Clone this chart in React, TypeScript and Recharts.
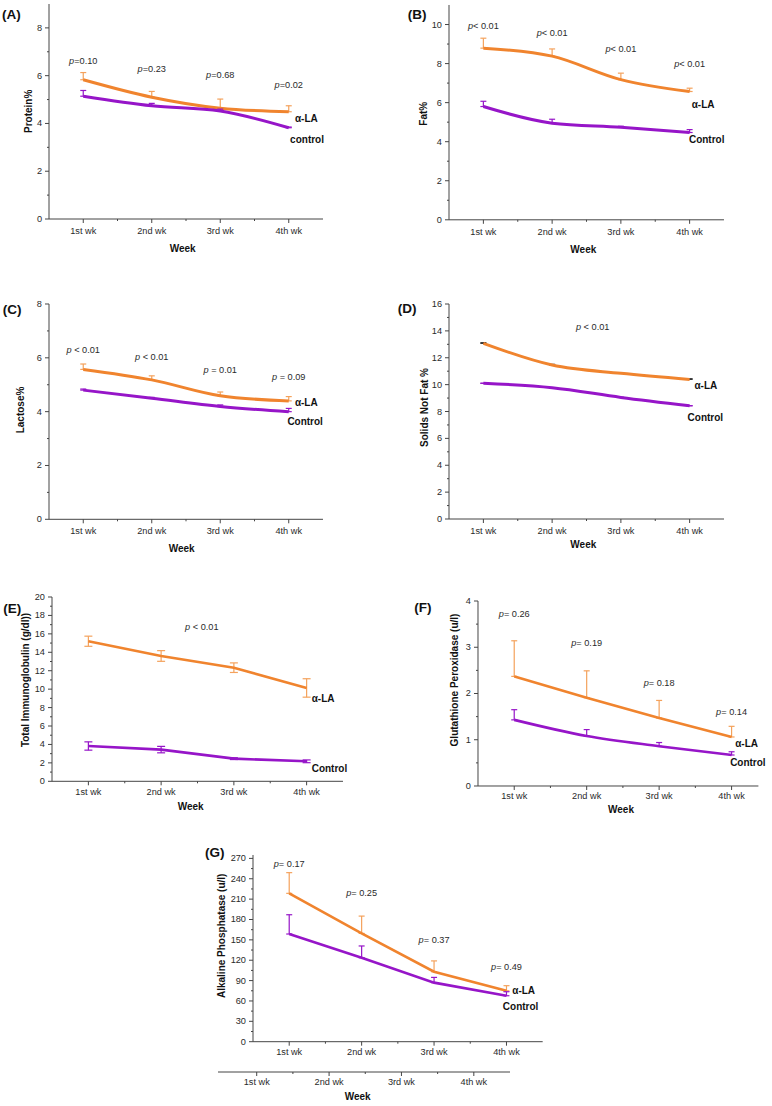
import React from "react";
import { ComposedChart, Line, Scatter, XAxis, YAxis, ErrorBar } from "recharts";

const weeks = ["1st wk", "2nd wk", "3rd wk", "4th wk"];

// (A) Protein %
const proteinAlpha = [5.83, 5.1, 4.64, 4.49];
const proteinAlphaErr = [0.3, 0.24, 0.38, 0.25];
const proteinCtrl = [5.14, 4.74, 4.52, 3.82];
const proteinCtrlErr = [0.24, 0.1, 0.08, 0.03];
const proteinP = ["p=0.10", "p=0.23", "p=0.68", "p=0.02"];
const proteinPY = [6.6, 6.28, 6.03, 5.6];

// (B) Fat %
const fatAlpha = [8.79, 8.38, 7.18, 6.57];
const fatAlphaErr = [0.51, 0.37, 0.33, 0.17];
const fatCtrl = [5.8, 4.95, 4.74, 4.47];
const fatCtrlErr = [0.27, 0.2, 0.05, 0.15];
const fatP = ["p< 0.01", "p< 0.01", "p< 0.01", "p< 0.01"];
const fatPY = [9.9, 9.55, 8.75, 7.99];

// (C) Lactose %
const lactoseAlpha = [5.57, 5.18, 4.59, 4.4];
const lactoseAlphaErr = [0.2, 0.15, 0.14, 0.16];
const lactoseCtrl = [4.8, 4.5, 4.19, 4.0];
const lactoseCtrlErr = [0.04, 0.03, 0.06, 0.12];
const lactoseP = ["p < 0.01", "p < 0.01", "p = 0.01", "p = 0.09"];
const lactosePY = [6.29, 6.04, 5.55, 5.28];

// (D) Solids not fat %
const snfAlpha = [13.07, 11.46, 10.84, 10.39];
const snfAlphaErr = [0.05, 0.05, 0.05, 0.05];
const snfCtrl = [10.1, 9.77, 9.05, 8.43];
const snfCtrlErr = [0, 0, 0, 0];

// (E) Total immunoglobulin
const igAlpha = [15.2, 13.6, 12.33, 10.13];
const igAlphaErr = [0.55, 0.58, 0.52, 1.0];
const igCtrl = [3.83, 3.44, 2.46, 2.17];
const igCtrlErr = [0.45, 0.35, 0.1, 0.15];

// (F) Glutathione peroxidase
const gpxAlpha = [2.37, 1.91, 1.47, 1.06];
const gpxAlphaErr = [0.77, 0.58, 0.38, 0.23];
const gpxCtrl = [1.43, 1.08, 0.86, 0.67];
const gpxCtrlErr = [0.22, 0.14, 0.08, 0.07];
const gpxP = ["p= 0.26", "p= 0.19", "p= 0.18", "p= 0.14"];
const gpxPY = [3.72, 3.1, 2.23, 1.6];

// (G) Alkaline phosphatase
const alpAlpha = [218.5, 159.5, 103, 75];
const alpAlphaErr = [30.5, 25.5, 16, 7.5];
const alpCtrl = [158.6, 123.7, 87, 67.7];
const alpCtrlErr = [28.4, 17.3, 7.7, 5.9];
const alpP = ["p= 0.17", "p= 0.25", "p= 0.37", "p= 0.49"];
const alpPY = [262, 219, 150, 110];

const ORANGE = "#F0842E";
const ORANGE_ERR = "#F4A25C";
const PURPLE = "#9615C8";
const AXIS = "#444";
const TXT = "#2a2a2a";
const FONT = "'Liberation Sans', Arial, sans-serif";

const range = (a: number, b: number, s: number) => {
  const out: number[] = [];
  for (let v = a; v <= b + 1e-9; v += s) out.push(Math.round(v * 1000) / 1000);
  return out;
};

const isMult = (v: number, m: number) => Math.abs(v / m - Math.round(v / m)) < 1e-6;

function makeYTick(major: number) {
  return (props: any) => {
    const { x, y, payload } = props;
    const v = payload.value;
    const big = isMult(v, major);
    return (
      <g>
        <line x1={x} x2={x - (big ? 4 : 2)} y1={y} y2={y} stroke={AXIS} />
        {big && (
          <text x={x - 7} y={y} textAnchor="end" dominantBaseline="central" fontSize={9.2} fill={TXT} fontFamily={FONT}>
            {v}
          </text>
        )}
      </g>
    );
  };
}

function makeXTick(gap: number) {
  return (props: any) => {
    const { x, y, payload } = props;
    const v = payload.value;
    const big = isMult(v, 1);
    return (
      <g>
        <line x1={x} x2={x} y1={y} y2={y + (big ? 4 : 2)} stroke={AXIS} />
        {big && (
          <text x={x} y={y + gap} textAnchor="middle" dominantBaseline="central" fontSize={9.2} fill={TXT} fontFamily={FONT}>
            {weeks[v - 1]}
          </text>
        )}
      </g>
    );
  };
}

const NoteText = (props: any) => {
  const { cx, cy, payload } = props;
  if (payload.kind === "p") {
    const t: string = payload.text;
    return (
      <text x={cx} y={cy} textAnchor="middle" dominantBaseline="central" fontSize={9.2} fill={TXT} fontFamily={FONT}>
        <tspan fontStyle="italic">{t[0]}</tspan>
        {t.slice(1)}
      </text>
    );
  }
  return (
    <text x={cx} y={cy} textAnchor="start" dominantBaseline="central" fontSize={10} fontWeight="bold" fill="#111" fontFamily={FONT}>
      {payload.text}
    </text>
  );
};

type Note = { x: number; y: number; text: string; kind: "p" | "s" };

const pNotes = (texts: string[], ys: number[]): Note[] =>
  texts.map((t, i) => ({ x: i + 1, y: ys[i], text: t, kind: "p" }));

const sNotes = (aX: number, aY: number, cX: number, cY: number, ctrlName = "Control"): Note[] => [
  { x: aX, y: aY, text: "α-LA", kind: "s" },
  { x: cX, y: cY, text: ctrlName, kind: "s" },
];

type PanelProps = {
  ax: number; top: number; ay: number; right: number;
  yDomain: [number, number]; yTicks: number[]; major: number;
  xDomain?: [number, number];
  alpha: number[]; alphaErr: number[]; ctrl: number[]; ctrlErr: number[];
  both?: boolean; curve?: "monotone" | "linear"; lw?: number; cap?: number;
  errColor?: string; notes: Note[]; labelGap?: number;
};

const YW = 30, XH = 30, MT = 4, MR = 50;

function Panel(p: PanelProps) {
  const rows = weeks.map((w, i) => ({
    x: i + 1,
    week: w,
    a: p.alpha[i],
    c: p.ctrl[i],
    aErr: p.both ? p.alphaErr[i] : [0, p.alphaErr[i]],
    cErr: p.both ? p.ctrlErr[i] : [0, p.ctrlErr[i]],
  }));
  const width = p.right - p.ax + YW + MR;
  const height = p.ay - p.top + MT + XH;
  const curve = p.curve ?? "monotone";
  const lw = p.lw ?? 3;
  const cap = p.cap ?? 3;
  return (
    <div style={{ position: "absolute", left: p.ax - YW, top: p.top - MT }}>
      <ComposedChart width={width} height={height} data={rows} margin={{ top: MT, right: MR, bottom: 0, left: 0 }}>
        <XAxis
          dataKey="x"
          type="number"
          domain={p.xDomain ?? [0.5, 4.5]}
          ticks={[1, 1.5, 2, 2.5, 3, 3.5, 4]}
          interval={0}
          height={XH}
          tickSize={0}
          tickMargin={0}
          tickLine={false}
          stroke={AXIS}
          tick={makeXTick(p.labelGap ?? 12)}
        />
        <YAxis
          type="number"
          domain={p.yDomain}
          ticks={p.yTicks}
          interval={0}
          width={YW}
          tickSize={0}
          tickMargin={0}
          tickLine={false}
          stroke={AXIS}
          tick={makeYTick(p.major)}
        />
        <Line type={curve} dataKey="a" stroke={ORANGE} strokeWidth={lw} dot={false} isAnimationActive={false}>
          <ErrorBar dataKey="aErr" direction="y" width={cap} stroke={p.errColor ?? ORANGE_ERR} strokeWidth={1.2} />
        </Line>
        <Line type={curve} dataKey="c" stroke={PURPLE} strokeWidth={lw} dot={false} isAnimationActive={false}>
          <ErrorBar dataKey="cErr" direction="y" width={cap} stroke={PURPLE} strokeWidth={1.2} />
        </Line>
        <Scatter data={p.notes} dataKey="y" shape={(s: any) => <NoteText {...s} />} isAnimationActive={false} />
      </ComposedChart>
    </div>
  );
}

// stray axis under panel G
function LowerAxis() {
  const left = 218, right = 510, ay = 1072;
  const rows = weeks.map((w, i) => ({ x: i + 1, week: w }));
  return (
    <div style={{ position: "absolute", left, top: ay - 10 }}>
      <ComposedChart width={right - left + 6} height={10 + XH} data={rows} margin={{ top: 10, right: 6, bottom: 0, left: 0 }}>
        <XAxis
          dataKey="x"
          type="number"
          domain={[0.465, 4.5]}
          ticks={[1, 1.5, 2, 2.5, 3, 3.5, 4]}
          interval={0}
          height={XH}
          tickSize={0}
          tickMargin={0}
          tickLine={false}
          stroke={AXIS}
          tick={makeXTick(10)}
        />
        <YAxis hide domain={[0, 1]} />
      </ComposedChart>
    </div>
  );
}

const Txt = ({ x, y, children, size = 10, rotate = false }: any) => (
  <text
    x={x}
    y={y}
    textAnchor="middle"
    dominantBaseline="central"
    fontSize={size}
    fontWeight="bold"
    fill="#111"
    fontFamily={FONT}
    transform={rotate ? `rotate(-90 ${x} ${y})` : undefined}
  >
    {children}
  </text>
);

export default function App() {
  return (
    <div style={{ position: "absolute", left: 0, top: 0, width: 772, height: 1106, background: "#fff", fontFamily: FONT, overflow: "hidden" }}>
      <Panel
        ax={49} top={4.3} ay={219.3} right={323}
        yDomain={[0, 9]} yTicks={range(0, 8, 1)} major={2}
        alpha={proteinAlpha} alphaErr={proteinAlphaErr} ctrl={proteinCtrl} ctrlErr={proteinCtrlErr}
        notes={[...pNotes(proteinP, proteinPY), ...sNotes(4.09, 4.2, 4.02, 3.34, "control")]}
      />
      <Panel
        ax={449} top={4.5} ay={219.3} right={724}
        yDomain={[0, 11]} yTicks={range(0, 10, 1)} major={2}
        alpha={fatAlpha} alphaErr={fatAlphaErr} ctrl={fatCtrl} ctrlErr={fatCtrlErr}
        notes={[...pNotes(fatP, fatPY), ...sNotes(4.03, 5.89, 3.99, 4.1)]}
      />
      <Panel
        ax={49} top={304} ay={519.3} right={323}
        yDomain={[0, 8]} yTicks={range(0, 8, 1)} major={2}
        alpha={lactoseAlpha} alphaErr={lactoseAlphaErr} ctrl={lactoseCtrl} ctrlErr={lactoseCtrlErr}
        notes={[...pNotes(lactoseP, lactosePY), ...sNotes(4.09, 4.33, 3.98, 3.65)]}
      />
      <Panel
        ax={449} top={304} ay={519} right={724}
        yDomain={[0, 16]} yTicks={range(0, 16, 1)} major={2}
        alpha={snfAlpha} alphaErr={snfAlphaErr} ctrl={snfCtrl} ctrlErr={snfCtrlErr} errColor="#333"
        notes={[{ x: 2.59, y: 14.31, text: "p < 0.01", kind: "p" }, ...sNotes(4.07, 9.92, 3.97, 7.54)]}
      />
      <Panel
        ax={52} top={596.7} ay={781} right={343}
        yDomain={[0, 20]} yTicks={range(0, 20, 1)} major={2}
        alpha={igAlpha} alphaErr={igAlphaErr} ctrl={igCtrl} ctrlErr={igCtrlErr} both curve="linear" lw={2.6} cap={4}
        labelGap={11}
        notes={[{ x: 2.56, y: 16.74, text: "p < 0.01", kind: "p" }, ...sNotes(4.07, 8.97, 4.07, 1.37)]}
      />
      <Panel
        ax={478.3} top={600.7} ay={785.7} right={758.7} xDomain={[0.5, 4.37]}
        yDomain={[0, 4]} yTicks={range(0, 4, 0.5)} major={1}
        alpha={gpxAlpha} alphaErr={gpxAlphaErr} ctrl={gpxCtrl} ctrlErr={gpxCtrlErr} lw={2.6}
        labelGap={10}
        notes={[...pNotes(gpxP, gpxPY), ...sNotes(4.05, 0.91, 3.98, 0.5)]}
      />
      <Panel
        ax={253.3} top={855} ay={1041.7} right={543}
        yDomain={[0, 275]} yTicks={range(0, 270, 15)} major={30}
        alpha={alpAlpha} alphaErr={alpAlphaErr} ctrl={alpCtrl} ctrlErr={alpCtrlErr} curve="linear" lw={2.6}
        labelGap={10}
        notes={[...pNotes(alpP, alpPY), ...sNotes(4.08, 76, 3.95, 51.5)]}
      />
      <LowerAxis />
      <svg width={772} height={1106} style={{ position: "absolute", left: 0, top: 0, pointerEvents: "none" }}>
        <text x={2} y={19} fontSize={13.5} fontWeight="bold" fill="#111" fontFamily={FONT}>(A)</text>
        <text x={407.7} y={19} fontSize={13.5} fontWeight="bold" fill="#111" fontFamily={FONT}>(B)</text>
        <text x={2.7} y={314} fontSize={13.5} fontWeight="bold" fill="#111" fontFamily={FONT}>(C)</text>
        <text x={397.7} y={312.7} fontSize={13.5} fontWeight="bold" fill="#111" fontFamily={FONT}>(D)</text>
        <text x={3.3} y={613.3} fontSize={13.5} fontWeight="bold" fill="#111" fontFamily={FONT}>(E)</text>
        <text x={414.3} y={611.7} fontSize={13.5} fontWeight="bold" fill="#111" fontFamily={FONT}>(F)</text>
        <text x={205} y={857.3} fontSize={13.5} fontWeight="bold" fill="#111" fontFamily={FONT}>(G)</text>

        <Txt x={28.7} y={111.3} rotate>Protein%</Txt>
        <Txt x={424} y={113.7} rotate>Fat%</Txt>
        <Txt x={20} y={410} rotate>Lactose%</Txt>
        <Txt x={424} y={407.5} rotate>Solids Not Fat %</Txt>
        <Txt x={25.3} y={680} rotate>Total Immunoglobulin (g/dl))</Txt>
        <Txt x={454.3} y={680} rotate>Glutathione Peroxidase (u/l)</Txt>
        <Txt x={222} y={935.8} rotate>Alkaline Phosphatase (u/l)</Txt>

        <Txt x={182.7} y={248.3}>Week</Txt>
        <Txt x={583.3} y={249.3}>Week</Txt>
        <Txt x={181.7} y={548.3}>Week</Txt>
        <Txt x={583.3} y={544.3}>Week</Txt>
        <Txt x={190.7} y={806}>Week</Txt>
        <Txt x={621} y={809.3}>Week</Txt>
        <Txt x={357.7} y={1096.7}>Week</Txt>
      </svg>
    </div>
  );
}
